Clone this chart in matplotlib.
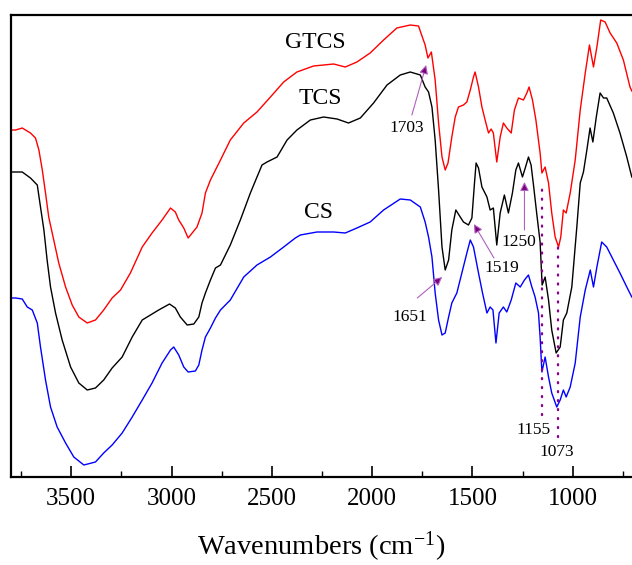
import matplotlib
matplotlib.use("Agg")
import matplotlib.pyplot as plt
from matplotlib.ticker import MultipleLocator

plt.rcParams['font.family'] = ['Liberation Serif', 'DejaVu Serif']
plt.rcParams['mathtext.default'] = 'regular'

# ---- data (transmittance, arbitrary units, curves offset) ----
gtcs_wn = [3797, 3777, 3744, 3703, 3678, 3661, 3644, 3628, 3612, 3587, 3562, 3528, 3495, 3462, 3420,
           3379, 3338, 3296, 3254, 3205, 3146, 3097, 3047, 3005, 2981, 2964, 2939, 2917, 2897, 2873,
           2848, 2831, 2806, 2781, 2756, 2707, 2640, 2574, 2507, 2441, 2375, 2292, 2192, 2134, 2076,
           2010, 1943, 1877, 1810, 1769, 1750, 1736, 1722, 1705, 1686, 1669, 1652, 1636, 1622, 1603,
           1586, 1570, 1545, 1528, 1511, 1495, 1487, 1470, 1453, 1437, 1420, 1407, 1396, 1379, 1362,
           1346, 1329, 1307, 1291, 1271, 1246, 1229, 1218, 1201, 1184, 1163, 1154, 1138, 1121, 1105,
           1088, 1071, 1060, 1047, 1033, 1013, 988, 963, 938, 917, 897, 880, 861, 839, 814, 781, 748,
           715, 706]
gtcs_t = [347, 347, 349, 344, 339, 327, 307, 284, 260, 237, 214, 190, 172, 160, 154,
          157, 167, 179, 187, 204, 230, 244, 257, 269, 265, 257, 249, 239, 244, 250,
          264, 284, 297, 307, 317, 337, 354, 365, 380, 395, 405, 411, 413, 410, 415,
          424, 437, 449, 452, 451, 440, 432, 419, 425, 397, 354, 320, 307, 314, 340,
          360, 370, 372, 375, 387, 400, 405, 390, 370, 357, 344, 348, 344, 315, 340,
          354, 349, 344, 367, 379, 377, 384, 390, 377, 357, 324, 304, 310, 294, 264,
          240, 230, 240, 267, 264, 284, 317, 367, 404, 432, 410, 430, 457, 455, 444, 434, 417,
          390, 386]

tcs_wn = [3797, 3777, 3744, 3703, 3669, 3653, 3636, 3620, 3603, 3578, 3545, 3503, 3462, 3420, 3379,
          3338, 3296, 3246, 3196, 3146, 3105, 3064, 3010, 2981, 2956, 2922, 2889, 2864, 2848, 2831,
          2806, 2781, 2756, 2707, 2657, 2607, 2574, 2549, 2524, 2474, 2424, 2375, 2308, 2242, 2175,
          2118, 2059, 1993, 1926, 1860, 1810, 1760, 1736, 1719, 1702, 1686, 1669, 1652, 1636, 1619,
          1603, 1583, 1561, 1545, 1520, 1503, 1490, 1482, 1470, 1453, 1428, 1412, 1396, 1379, 1362,
          1341, 1321, 1301, 1284, 1271, 1251, 1237, 1221, 1208, 1196, 1179, 1163, 1153, 1138, 1121,
          1105, 1083, 1063, 1047, 1030, 1005, 980, 963, 947, 930, 914, 900, 883, 864, 847, 831, 798,
          765, 731, 706]
tcs_t = [305, 305, 305, 299, 292, 270, 247, 217, 190, 164, 137, 110, 94, 87, 89,
         97, 109, 120, 140, 157, 162, 167, 173, 169, 160, 152, 153, 160, 174, 184,
         197, 209, 212, 232, 257, 284, 300, 312, 315, 320, 337, 347, 357, 360, 358,
         354, 359, 374, 392, 402, 405, 402, 390, 385, 370, 337, 287, 230, 207, 217,
         247, 267, 260, 255, 252, 259, 294, 314, 309, 290, 280, 267, 269, 232, 264,
         282, 264, 284, 307, 314, 300, 309, 320, 312, 292, 262, 235, 192, 200, 177,
         147, 124, 130, 157, 164, 190, 250, 294, 305, 327, 349, 335, 360, 384, 379, 379, 364,
         344, 320, 300]

cs_wn = [3797, 3777, 3744, 3719, 3694, 3669, 3653, 3628, 3603, 3570, 3528, 3487, 3437, 3379, 3338,
         3296, 3246, 3196, 3146, 3097, 3047, 3005, 2989, 2964, 2939, 2917, 2881, 2864, 2848, 2831,
         2806, 2781, 2756, 2707, 2640, 2574, 2507, 2441, 2383, 2358, 2275, 2192, 2134, 2076, 2010,
         1943, 1860, 1810, 1760, 1736, 1719, 1702, 1686, 1669, 1652, 1636, 1619, 1603, 1578, 1553,
         1528, 1511, 1495, 1470, 1450, 1428, 1412, 1398, 1383, 1367, 1346, 1329, 1307, 1284, 1262,
         1241, 1221, 1204, 1188, 1171, 1163, 1154, 1138, 1121, 1105, 1080, 1063, 1047, 1033, 1013,
         988, 963, 938, 913, 897, 880, 856, 831, 798, 765, 731, 706]
cs_t = [179, 179, 178, 170, 167, 154, 130, 97, 70, 50, 34, 20, 12, 15, 24,
        32, 44, 60, 77, 94, 114, 127, 130, 122, 110, 105, 106, 112, 127, 140,
        149, 159, 167, 177, 200, 212, 220, 230, 239, 242, 245, 245, 244, 249, 255,
        267, 278, 277, 270, 255, 240, 220, 184, 157, 142, 144, 160, 174, 184, 204,
        224, 237, 230, 204, 184, 164, 170, 167, 134, 164, 170, 165, 177, 194, 190,
        197, 202, 190, 180, 164, 140, 105, 120, 100, 84, 70, 77, 87, 80, 90,
        114, 160, 187, 207, 190, 210, 235, 230, 217, 204, 190, 180]

series_names = ['GTCS', 'TCS', 'CS']
series_colors = ['#ff0000', '#000000', '#0000ff']
label_pos = [(2283, 434), (2258, 378), (2267, 264)]

arrow_labels = ['1703', '1651', '1519', '1250']
arrow_text = [(1827, 349), (1810, 160), (1352, 209), (1269, 235)]
arrow_tail = [(1802, 362), (1775, 179), (1393, 219), (1241, 247)]
arrow_tip = [(1731, 412), (1651, 200), (1493, 253), (1241, 295)]

dot_labels = ['1155', '1073']
dot_wn = [1153, 1075]
dot_range = [(62, 295), (40, 232)]
dot_text = [(1194, 47), (1078, 25)]

xticks = [3500, 3000, 2500, 2000, 1500, 1000]

# ---- figure ----
fig = plt.figure(figsize=(6.32, 5.65), dpi=100)
ax = fig.add_axes([11 / 632, 1 - 477 / 565, 1 - 11 / 632, (477 - 15) / 565])

for wn, t, c in zip([gtcs_wn, tcs_wn, cs_wn], [gtcs_t, tcs_t, cs_t], series_colors):
    ax.plot(wn, t, color=c, lw=1.0, solid_joinstyle='round')

for name, (x, y) in zip(series_names, label_pos):
    ax.text(x, y, name, fontsize=17, ha='center', va='center')

for lab, tp, tl, tip in zip(arrow_labels, arrow_text, arrow_tail, arrow_tip):
    ax.annotate('', xy=tip, xytext=tl,
                arrowprops=dict(arrowstyle='-|>', mutation_scale=13, lw=0.8,
                                ec='#b060c0', fc='#7a007a', shrinkA=0, shrinkB=0))
    ax.text(tp[0], tp[1], lab, fontsize=12.5, ha='center', va='center')

for lab, x, (y0, y1), tp in zip(dot_labels, dot_wn, dot_range, dot_text):
    ax.plot([x, x], [y0, y1], color='#8b008b', lw=1.7, linestyle=(0, (0.4, 3.4)),
            dash_capstyle='round')
    ax.text(tp[0], tp[1], lab, fontsize=12.5, ha='center', va='center')

ax.set_xlim(3800, 705)
ax.set_ylim(0, 462)
ax.set_xticks(xticks)
ax.xaxis.set_minor_locator(MultipleLocator(250))
ax.set_yticks([])
ax.tick_params(axis='x', which='major', direction='in', length=8, width=1.2,
               labelsize=18, pad=8, top=False)
ax.tick_params(axis='x', which='minor', direction='in', length=4, width=1.0, top=False)
for s in ['left', 'bottom', 'top']:
    ax.spines[s].set_linewidth(1.6)
ax.spines['right'].set_visible(False)
ax.set_xlabel('Wavenumbers (cm$^{-1}$)', fontsize=20.5, labelpad=14)

fig.savefig('out.png', dpi=100)
